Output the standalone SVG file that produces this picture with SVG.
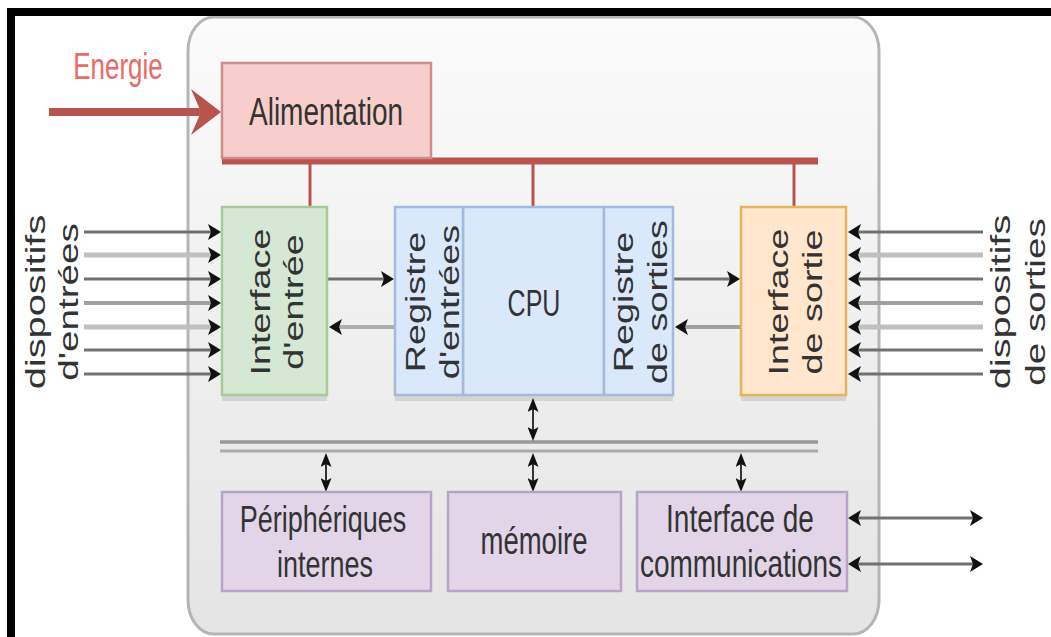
<svg xmlns="http://www.w3.org/2000/svg" width="1051" height="637" viewBox="0 0 1051 637">
<defs>
<linearGradient id="bg" x1="0" y1="0" x2="0" y2="1">
<stop offset="0" stop-color="#fbfbfb"/>
<stop offset="1" stop-color="#e4e4e4"/>
</linearGradient>
<marker id="ah" viewBox="0 0 13 16" refX="10" refY="8" markerWidth="13" markerHeight="16" markerUnits="userSpaceOnUse" orient="auto-start-reverse">
<path d="M0,0 L13,8 L0,16 L3,8 Z" fill="#111"/>
</marker>
<marker id="av" viewBox="0 0 14 11" refX="11" refY="5.5" markerWidth="14" markerHeight="11" markerUnits="userSpaceOnUse" orient="auto-start-reverse">
<path d="M0,0 L14,5.5 L0,11 L3,5.5 Z" fill="#111"/>
</marker>
</defs>
<style>
.t{font-family:"Liberation Sans",Arial,sans-serif;fill:#333;font-size:28px;text-anchor:middle}
.dark{stroke:#707070;stroke-width:3}
.mid{stroke:#a0a0a0;stroke-width:4}
.light{stroke:#c0c0c0;stroke-width:5}
.vb{stroke:#333;stroke-width:2}
.sh{fill:#000;opacity:.1}
.red{fill:#f8cecc;stroke:#d08c8a;stroke-width:2.5}
.green{fill:#d5e8d4;stroke:#a9c99a;stroke-width:2.5}
.blue{fill:#dae8fc;stroke:#a3bad9;stroke-width:2.5}
.orange{fill:#ffe6cc;stroke:#e3b55a;stroke-width:2.5}
.purple{fill:#e1d5e7;stroke:#b9a3c6;stroke-width:2.5}
.pw{stroke:#b85450}
</style>
<rect x="188" y="17" width="691" height="617" rx="26" ry="34" fill="url(#bg)" stroke="#b5b5b5" stroke-width="3"/>

<g id="energie">
<text class="t" style="fill:#ea6b66;font-size:26px" transform="translate(118,79) scale(1,1.45)">Energie</text>
</g>

<g id="dispositifs-entrees">
<text class="t" transform="translate(45,302) scale(1,1.42) rotate(-90)">dispositifs</text>
<text class="t" transform="translate(78,302) scale(1,1.38) rotate(-90)">d'entrées</text>
</g>
<g id="dispositifs-sorties">
<text class="t" transform="translate(1010,302) scale(1,1.42) rotate(-90)">dispositifs</text>
<text class="t" transform="translate(1045,302) scale(1,1.38) rotate(-90)">de sorties</text>
</g>

<g id="connectors">
<line class="pw" x1="49" y1="112" x2="202" y2="112" stroke-width="8"/>
<polygon points="191,89 221,112 191,135 201,112" fill="#b85450"/>
<line class="pw" x1="222" y1="161" x2="818" y2="161" stroke-width="7"/>
<line class="pw" x1="310" y1="163" x2="310" y2="207" stroke-width="3"/>
<line class="pw" x1="533" y1="163" x2="533" y2="207" stroke-width="3"/>
<line class="pw" x1="794" y1="163" x2="794" y2="207" stroke-width="3"/>

<g marker-end="url(#ah)">
<line class="dark" x1="84" y1="232" x2="218" y2="232"/>
<line class="light" x1="84" y1="255" x2="218" y2="255"/>
<line class="dark" x1="84" y1="279" x2="218" y2="279"/>
<line class="mid" x1="84" y1="303" x2="218" y2="303"/>
<line class="light" x1="84" y1="327" x2="218" y2="327"/>
<line class="dark" x1="84" y1="350" x2="218" y2="350"/>
<line class="dark" x1="84" y1="374" x2="218" y2="374"/>

<line class="dark" x1="983" y1="232" x2="851" y2="232"/>
<line class="light" x1="983" y1="255" x2="851" y2="255"/>
<line class="dark" x1="983" y1="279" x2="851" y2="279"/>
<line class="mid" x1="983" y1="303" x2="851" y2="303"/>
<line class="light" x1="983" y1="327" x2="851" y2="327"/>
<line class="dark" x1="983" y1="350" x2="851" y2="350"/>
<line class="dark" x1="983" y1="374" x2="851" y2="374"/>

<line class="dark" x1="328" y1="279" x2="391" y2="279"/>
<line class="light" x1="395" y1="327" x2="332" y2="327" style="stroke:#adadad;stroke-width:4"/>
<line class="dark" x1="674" y1="279" x2="737" y2="279"/>
<line class="mid" x1="741" y1="327" x2="678" y2="327"/>

<line class="dark" x1="851" y1="518" x2="980" y2="518" marker-start="url(#ah)"/>
<line class="dark" x1="851" y1="564" x2="980" y2="564" marker-start="url(#ah)"/>
</g>

<line x1="220" y1="442" x2="818" y2="442" stroke="#999" stroke-width="3.5"/>
<line x1="220" y1="451" x2="818" y2="451" stroke="#aaa" stroke-width="3"/>

<g marker-start="url(#av)" marker-end="url(#av)">
<line class="vb" x1="326" y1="456" x2="326" y2="489"/>
<line class="vb" x1="533" y1="401" x2="533" y2="438"/>
<line class="vb" x1="533" y1="456" x2="533" y2="489"/>
<line class="vb" x1="741" y1="456" x2="741" y2="489"/>
</g>
</g>

<g id="alimentation">
<rect class="red" x="222" y="63" width="209" height="95"/>
<text class="t" transform="translate(326,125) scale(1,1.4)">Alimentation</text>
</g>

<g id="interface-entree">
<rect class="sh" x="222" y="213" width="105" height="188"/>
<rect class="green" x="222" y="207" width="105" height="188"/>
<text class="t" transform="translate(270,302) scale(1,1.35) rotate(-90)">Interface</text>
<text class="t" transform="translate(303,302) scale(1,1.35) rotate(-90)">d'entrée</text>
</g>

<g id="cpu">
<rect class="sh" x="395" y="213" width="278" height="188"/>
<rect class="blue" x="463" y="207" width="141" height="188"/>
<text class="t" style="font-size:25px" transform="translate(534,316) scale(1,1.45)">CPU</text>
<g id="registre-entrees">
<rect class="blue" x="395" y="207" width="68" height="188"/>
<text class="t" transform="translate(425,302) scale(1,1.35) rotate(-90)">Registre</text>
<text class="t" transform="translate(459,302) scale(1,1.35) rotate(-90)">d'entrées</text>
</g>
<g id="registre-sorties">
<rect class="blue" x="604" y="207" width="69" height="188"/>
<text class="t" transform="translate(633,302) scale(1,1.35) rotate(-90)">Registre</text>
<text class="t" transform="translate(667,302) scale(1,1.35) rotate(-90)">de sorties</text>
</g>
</g>

<g id="interface-sortie">
<rect class="sh" x="741" y="213" width="105" height="188"/>
<rect class="orange" x="741" y="207" width="105" height="188"/>
<text class="t" transform="translate(788,302) scale(1,1.35) rotate(-90)">Interface</text>
<text class="t" transform="translate(822,302) scale(1,1.35) rotate(-90)">de sortie</text>
</g>

<g id="peripheriques">
<rect class="purple" x="222" y="492" width="209" height="99"/>
<text class="t" style="font-size:27px" transform="translate(323,532) scale(1,1.4)">Périphériques</text>
<text class="t" style="font-size:27px" transform="translate(325,577) scale(1,1.4)">internes</text>
</g>

<g id="memoire">
<rect class="purple" x="448" y="492" width="173" height="99"/>
<text class="t" style="font-size:27.5px" transform="translate(534,554) scale(1,1.4)">mémoire</text>
</g>

<g id="interface-communications">
<rect class="purple" x="637" y="492" width="210" height="99"/>
<text class="t" transform="translate(740,532) scale(1,1.4)">Interface de</text>
<text class="t" transform="translate(741,577) scale(1,1.4)">communications</text>
</g>

<rect x="11" y="12" width="1100" height="700" fill="none" stroke="#000" stroke-width="8"/>
</svg>
